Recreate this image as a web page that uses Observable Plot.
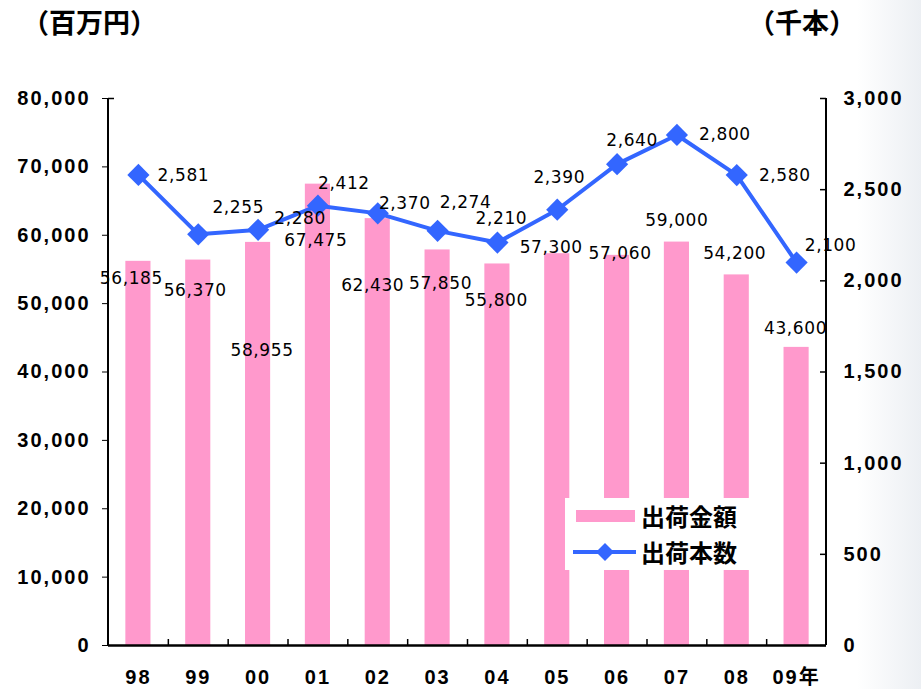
<!DOCTYPE html>
<html>
<head>
<meta charset="utf-8">
<script src="https://cdn.jsdelivr.net/npm/d3@7"></script>
<script src="https://cdn.jsdelivr.net/npm/@observablehq/plot@0.6"></script>
<style>
  html, body { margin: 0; padding: 0; }
  body {
    width: 921px; height: 689px; overflow: hidden;
    background: linear-gradient(to right, #ffffff 0%, #ffffff 93%, #eceff3 100%);
    font-family: "Noto Sans CJK JP", sans-serif;
  }
  #wrap { position: relative; width: 921px; height: 689px; }
  #header { position: relative; height: 40px; }
  .unit { position: absolute; top: 6px; font-size: 27px; line-height: 32px; font-weight: 700; color: #000; white-space: nowrap; }
  #legend { position: absolute; left: 565px; top: 498px; width: 210px; height: 72px; background: #fff; }
  #legend .sw { position: absolute; left: 11px; top: 12px; width: 59px; height: 12px; background: #ff99cc; }
  #legend .lt { position: absolute; left: 76px; font-size: 24px; line-height: 28px; font-weight: 700; color: #000; white-space: nowrap; }
  #legend svg { position: absolute; left: 0; top: 40px; }
  g[aria-label="y-axis tick label"] text, g[aria-label="x-axis tick label"] text { letter-spacing: 2px; }
  g[aria-label="text"] text { letter-spacing: 0.6px; }
</style>
</head>
<body>
<div id="wrap">
  <div id="header">
    <div class="unit" style="left:22px">（百万円）</div>
    <div class="unit" style="left:748px">（千本）</div>
  </div>
  <div id="chart"></div>
  <div id="legend">
    <div class="sw"></div>
    <div class="lt" style="top:4px">出荷金額</div>
    <svg width="76" height="28" viewBox="0 0 76 28">
      <line x1="8" y1="14" x2="71" y2="14" stroke="#3366ff" stroke-width="4"/>
      <path d="M40 5 L49 14 L40 23 L31 14 Z" fill="#3366ff"/>
    </svg>
    <div class="lt" style="top:40px">出荷本数</div>
  </div>
</div>
<script>
// ---- data ----
const years = ["98", "99", "00", "01", "02", "03", "04", "05", "06", "07", "08", "09年"];
const amounts = [56185, 56370, 58955, 67475, 62430, 57850, 55800, 57300, 57060, 59000, 54200, 43600]; // 出荷金額 (百万円)
const units = [2581, 2255, 2280, 2412, 2370, 2274, 2210, 2390, 2640, 2800, 2580, 2100];                 // 出荷本数 (千本)
const leftTicks = [0, 10000, 20000, 30000, 40000, 50000, 60000, 70000, 80000];
const rightTicks = [0, 500, 1000, 1500, 2000, 2500, 3000];

// ---- label placement (pixel offsets from the data point) ----
const amountDx = [-7, -3, 4, -2, -5, 3, -1, -6, 3, 0, -2, -1];
const amountDy = [17, 30, 108, 56, 67, 34, 37, -6, -2, -22, -21, -19];
const unitsDx = [45, 40, 42, 26, 27, 28, 4, 2, 15, 48, 48, 34];
const unitsDy = [1, -27, -11, -22, -10, -28, -24, -32, -24, 0, 0, -17];

const yMax = 80000, y2Max = 3000, k = yMax / y2Max;
const data = years.map((year, i) => ({year, amount: amounts[i], units: units[i], unitsScaled: units[i] * k}));

const W = 921, H = 649, mL = 108, mR = 95, mT = 58, mB = 44;
const frameW = W - mL - mR;
const frameH = H - mT - mB;
const step = frameW / years.length;

const fmt = d3.format(",");
const axisFont = {fontSize: 20, fontWeight: "bold", fontFamily: "Liberation Sans, Arial, Noto Sans CJK JP, sans-serif", fill: "#000"};
const labelFont = {fontSize: 17, fontFamily: "DejaVu Sans, Verdana, sans-serif", fill: "#000"};

const amountLabels = data.map((d, i) => Plot.text([d], {
  x: "year", y: "amount", text: r => fmt(r.amount), dx: amountDx[i], dy: amountDy[i], ...labelFont
}));
const unitLabels = data.map((d, i) => Plot.text([d], {
  x: "year", y: "unitsScaled", text: r => fmt(r.units), dx: unitsDx[i], dy: unitsDy[i], ...labelFont
}));

const chart = Plot.plot({
  width: W, height: H,
  marginLeft: mL, marginRight: mR, marginTop: mT, marginBottom: mB,
  style: {background: "transparent", overflow: "visible"},
  x: {domain: years, paddingInner: 0.58, paddingOuter: 0.29, round: false, label: null},
  y: {domain: [0, yMax], label: null},
  marks: [
    Plot.barY(data, {x: "year", y: "amount", fill: "#ff99cc"}),
    // axis lines
    Plot.barY([{a: 0, b: yMax}], {y1: "a", y2: "b", fill: "#000", insetRight: frameW - 2, dx: -1}),
    Plot.barY([{a: 0, b: yMax}], {y1: "a", y2: "b", fill: "#000", insetLeft: frameW - 2, dx: 1}),
    Plot.ruleY([0], {stroke: "#000", strokeWidth: 2.5}),
    // category tick marks (inside, at band boundaries)
    Plot.tickX(years.slice(1), {x: d => d, dx: -step / 2, insetTop: frameH - 6, stroke: "#000", strokeWidth: 1.5}),
    // right axis ticks (inside)
    Plot.ruleY(rightTicks.map(v => v * k), {insetLeft: frameW - 6, stroke: "#000", strokeWidth: 1.5}),
    // left axis top tick (inside)
    Plot.ruleY([yMax], {insetRight: frameW - 6, stroke: "#000", strokeWidth: 1.5}),
    Plot.axisY({anchor: "left", ticks: leftTicks, tickSize: 6, tickPadding: 12, tickFormat: fmt, label: null, ...axisFont}),
    Plot.axisY({anchor: "right", ticks: rightTicks.map(v => v * k), tickSize: 0, tickPadding: 17,
      tickFormat: d => fmt(Math.round(d / k)), label: null, ...axisFont}),
    Plot.axisX({anchor: "bottom", tickSize: 0, tickPadding: 24, label: null, ...axisFont}),
    // line series
    Plot.line(data, {x: "year", y: "unitsScaled", stroke: "#3366ff", strokeWidth: 4}),
    Plot.dot(data, {x: "year", y: "unitsScaled", symbol: "diamond2", r: 10, fill: "#3366ff", stroke: "none"}),
    ...amountLabels,
    ...unitLabels
  ]
});
document.getElementById("chart").appendChild(chart);
</script>
</body>
</html>
